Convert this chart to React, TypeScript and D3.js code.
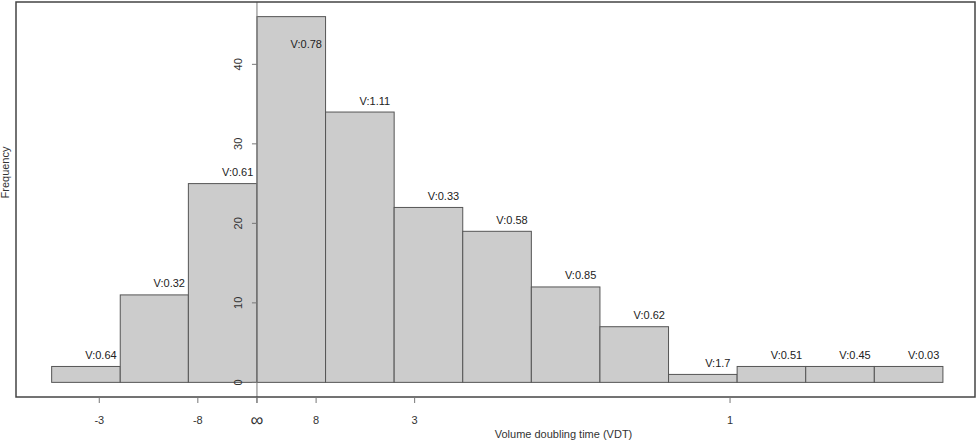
import React from 'react';
import * as d3 from 'd3';

// bin edges on the 1/VDT scale, counts per bin, and the label above each bar
const binEdges = [-0.434, -0.289, -0.145, 0, 0.145, 0.29, 0.435, 0.58, 0.725, 0.87, 1.015, 1.16, 1.305, 1.45];
const counts = [2, 11, 25, 46, 34, 22, 19, 12, 7, 1, 2, 2, 2];
const barLabels = ['V:0.64', 'V:0.32', 'V:0.61', 'V:0.78', 'V:1.11', 'V:0.33', 'V:0.58', 'V:0.85', 'V:0.62', 'V:1.7', 'V:0.51', 'V:0.45', 'V:0.03'];

const xTickValues = [-1 / 3, -1 / 8, 0, 1 / 8, 1 / 3, 1];
const xTickLabels = ['-3', '-8', '\u221E', '8', '3', '1'];
const yTickValues = [0, 10, 20, 30, 40];

const W = 979;
const H = 440;
const box = { left: 16, right: 975, top: 2, bottom: 397 };
const font = '"Liberation Sans", Arial, Helvetica, sans-serif';

const App: React.FC = () => {
  // R style: roughly 4% padding around the data range
  const lo = binEdges[0];
  const hi = binEdges[binEdges.length - 1];
  const padL = (hi - lo) * 0.04;
  const padR = (hi - lo) * 0.036;
  const x = d3.scaleLinear().domain([lo - padL, hi + padR]).range([box.left, box.right]);

  const yMax = d3.max(counts) || 0;
  const padY = yMax * 0.04;
  const y = d3.scaleLinear().domain([-padY, yMax + padY]).range([box.bottom, box.top]);

  const x0 = x(0);
  const labelShift = 15;

  return (
    <svg width={W} height={H} viewBox={`0 0 ${W} ${H}`}
      style={{ position: 'absolute', left: 0, top: 0, background: '#fff' }}
      fontFamily={font}>
      {/* bars */}
      {counts.map((c, i) => (
        <rect key={i}
          x={x(binEdges[i])}
          y={y(c)}
          width={x(binEdges[i + 1]) - x(binEdges[i])}
          height={y(0) - y(c)}
          fill="#cccccc"
          stroke="#555"
          strokeWidth={1} />
      ))}

      {/* vertical line at x = 0 (the y axis) */}
      <line x1={x0} x2={x0} y1={box.top} y2={box.bottom + 6} stroke="#777" strokeWidth={1} />

      {/* y ticks */}
      {yTickValues.map(v => (
        <g key={v}>
          <line x1={x0 - 5} x2={x0} y1={y(v)} y2={y(v)} stroke="#777" />
          <text transform={`translate(${x0 - 19},${y(v)}) rotate(-90)`}
            textAnchor="middle" dominantBaseline="central" fontSize={11} fill="#333">{v}</text>
        </g>
      ))}

      {/* bar labels */}
      {counts.map((c, i) => {
        const cx = (x(binEdges[i]) + x(binEdges[i + 1])) / 2 + labelShift;
        let cy = y(c) - 11.5;
        if (cy - 6 < box.top) cy = y(c) + 27.5;
        return (
          <text key={i} x={cx} y={cy} textAnchor="middle" dominantBaseline="central"
            fontSize={11} fill="#222">{barLabels[i]}</text>
        );
      })}

      {/* plot box */}
      <rect x={box.left} y={box.top} width={box.right - box.left} height={box.bottom - box.top}
        fill="none" stroke="#444" strokeWidth={1.5} />

      {/* x ticks */}
      {xTickValues.map((v, i) => (
        <g key={i}>
          <line x1={x(v)} x2={x(v)} y1={box.bottom} y2={box.bottom + 6} stroke="#777" />
          <text x={x(v)} y={420} textAnchor="middle" dominantBaseline="central"
            fontSize={xTickLabels[i] === '\u221E' ? 18 : 11} fill="#333">{xTickLabels[i]}</text>
        </g>
      ))}

      {/* axis titles */}
      <text x={(box.left + box.right) / 2 + 68} y={434} textAnchor="middle" dominantBaseline="central"
        fontSize={11} fill="#333">Volume doubling time (VDT)</text>
      <text transform={`translate(5,${(box.top + box.bottom) / 2 - 27}) rotate(-90)`}
        textAnchor="middle" dominantBaseline="central" fontSize={11} fill="#333">Frequency</text>
    </svg>
  );
};

export default App;
